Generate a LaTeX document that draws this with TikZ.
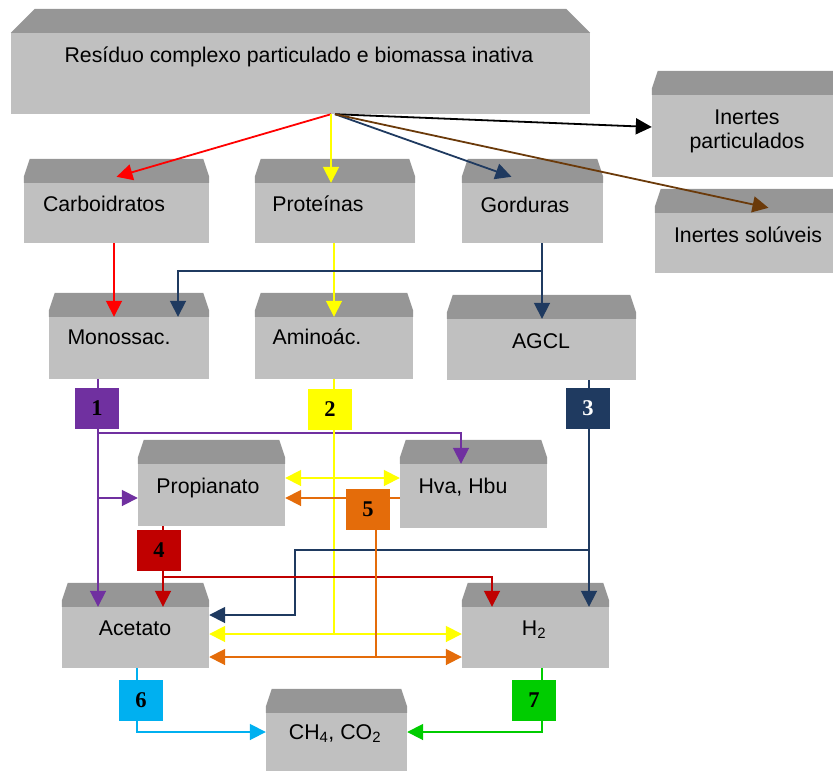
\documentclass[tikz,border=0pt]{standalone}
\usepackage{fontspec}
\setmainfont{Liberation Sans}
\newfontfamily\numfont{Liberation Serif}
\usetikzlibrary{arrows.meta}

\definecolor{cuerpo}{HTML}{C0C0C0}
\definecolor{techo}{HTML}{969696}
\definecolor{rojo}{HTML}{FF0000}
\definecolor{amarillo}{HTML}{FFFF00}
\definecolor{azul}{HTML}{1F3A60}
\definecolor{marron}{HTML}{6B3A0A}
\definecolor{morado}{HTML}{7030A0}
\definecolor{granate}{HTML}{C00000}
\definecolor{naranja}{HTML}{E46C0A}
\definecolor{celeste}{HTML}{00B0F0}
\definecolor{verde}{HTML}{00CC00}

\tikzset{
  caja/.style={fill=cuerpo, inner sep=0pt, minimum height=62pt},
  texto/.style={font=\fontsize{21.3}{24}\selectfont, inner sep=0pt, text height=16pt, text depth=5pt},
  texto2/.style={font=\fontsize{21.3}{24}\selectfont, inner sep=0pt, align=center},
  num/.style={minimum width=44pt, minimum height=41pt, inner sep=0pt, font=\numfont\bfseries\fontsize{22.5}{22.5}\selectfont},
  linea/.style={line width=1.8pt},
  flecha/.style={linea, -{Triangle[length=16pt,width=16pt]}},
  doble/.style={linea, {Triangle[length=16pt,width=16pt]}-{Triangle[length=16pt,width=16pt]}},
}

\begin{document}
\begin{tikzpicture}[x=1pt, y=-1pt]
    \useasboundingbox (0,0) rectangle (833,771);
    \clip (0,0) rectangle (833,771);
    % Cajas
    \node[caja, minimum width=579pt, minimum height=81pt] (res) at (300.5,73.5) {};
    \node[caja, minimum width=190pt, minimum height=82pt] (inpart) at (747,136) {};
    \node[caja, minimum width=187pt, minimum height=60pt] (insol) at (748.5,243) {};
    \node[caja, minimum width=185pt, minimum height=60pt] (carb) at (116.5,213) {};
    \node[caja, minimum width=160pt, minimum height=60pt] (prot) at (335,213) {};
    \node[caja, minimum width=141pt, minimum height=60pt] (gord) at (532.5,213) {};
    \node[caja, minimum width=160pt] (mono) at (129,348) {};
    \node[caja, minimum width=158pt] (amino) at (334,348) {};
    \node[caja, minimum width=189pt, minimum height=61pt] (agcl) at (541.5,349.5) {};
    \node[caja, minimum width=147pt] (prop) at (211.5,495) {};
    \node[caja, minimum width=147pt, minimum height=64pt] (hva) at (473.5,496) {};
    \node[caja, minimum width=147pt, minimum height=61pt] (acet) at (135.5,637.5) {};
    \node[caja, minimum width=147pt, minimum height=61pt] (h2) at (535.5,637.5) {};
    \node[caja, minimum width=141pt, minimum height=70pt] (ch4) at (336.5,748) {};
    % Techos
    \foreach \n/\c/\v in {res/24/0, inpart/6/6, insol/6/6, carb/6/6, prot/6/6, gord/6/6,
                          mono/6/6, amino/6/6, agcl/6/6, prop/6/6, hva/6/6, acet/6/6, h2/6/6, ch4/6/6}
      \fill[techo] (\n.north west) -- ++(0,-\v) -- ++(\c,\v-24)
        -- ([xshift=-\c, yshift=24]\n.north east) -- ([yshift=\v]\n.north east)
        -- (\n.north east) -- cycle;
    % Textos
    \node[texto] (res-t) at (299,57) {Resíduo complexo particulado e biomassa inativa};
    \node[texto2] (inpart-t) at (747,131) {Inertes\\particulados};
    \node[texto] (insol-t) at (748,237) {Inertes solúveis};
    \node[texto] (carb-t) at (104,206) {Carboidratos};
    \node[texto] (prot-t) at (318,206) {Proteínas};
    \node[texto] (gord-t) at (525,207) {Gorduras};
    \node[texto] (mono-t) at (119,339) {Monossac.};
    \node[texto] (amino-t) at (317,339) {Aminoác.};
    \node[texto] (agcl-t) at (541,343) {AGCL};
    \node[texto] (prop-t) at (208,488) {Propianato};
    \node[texto] (hva-t) at (463,488) {Hva, Hbu};
    \node[texto] (acet-t) at (135,630) {Acetato};
    \node[texto] (h2-t) at (534,630) {H\textsubscript{2}};
    \node[texto] (ch4-t) at (335,734) {CH\textsubscript{4}, CO\textsubscript{2}};
    % Hidrolise
    \coordinate (sal) at ([xshift=30.5]res.south);
    \coordinate (sal2) at ([xshift=34.5]res.south);
    \draw[flecha, rojo] (sal) -- ([yshift=6]carb.north);
    \draw[flecha, amarillo] (sal) -- (sal |- prot.north);
    \draw[flecha, azul] (sal2) -- ([xshift=-21, yshift=6]gord.north);
    \draw[flecha, black] (sal2) -- ([yshift=9]inpart.west);
    \draw[flecha, marron] (sal2) -- ([xshift=20, yshift=5]insol.north);
    % Acidogenese
    \draw[flecha, rojo] (carb.south -| 114,0) -- (mono.north -| 114,0);
    \draw[flecha, amarillo] (prot.south -| 334,0) -- (amino.north -| 334,0);
    \draw[flecha, azul] (gord.south -| 542,0) -- (agcl.north -| 542,0);
    \draw[flecha, azul] (542,271) -| (mono.north -| 178,0);
    % 1
    \draw[flecha, morado] (mono.south -| 98,0) -- (acet.north -| 98,0);
    \draw[flecha, morado] (98,433) -| (hva.north -| 461,0);
    \draw[flecha, morado] (98,498) -- (prop.west |- 0,498);
    % 2
    \draw[linea, amarillo] (amino.south -| 334,0) -- (334,634);
    \draw[doble, amarillo] (acet.east |- 0,634) -- (h2.west |- 0,634);
    \draw[doble, amarillo] (prop.east |- 0,478) -- (hva.west |- 0,478);
    % 3
    \draw[flecha, azul] (agcl.south -| 589,0) -- (h2.north -| 589,0);
    \draw[flecha, azul] (589,550) -| (295,615) -- (acet.east |- 0,615);
    % 4
    \draw[flecha, granate] (prop.south -| 163,0) -- (acet.north -| 163,0);
    \draw[flecha, granate] (163,577) -| (h2.north -| 492,0);
    % 5
    \draw[flecha, naranja] (hva.west |- 0,498) -- (prop.east |- 0,498);
    \draw[linea, naranja] (376,498) -- (376,657);
    \draw[doble, naranja] (acet.east |- 0,657) -- (h2.west |- 0,657);
    % 6 e 7
    \draw[flecha, celeste] (acet.south -| 137,0) |- (ch4.west |- 0,732);
    \draw[flecha, verde] (h2.south -| 542,0) |- (ch4.east |- 0,732);
    % Numeros
    \node[num, fill=morado] (n1) at (97,408.5) {1};
    \node[num, fill=amarillo] (n2) at (330,409) {2};
    \node[num, fill=azul, text=white] (n3) at (588,408.5) {3};
    \node[num, fill=granate] (n4) at (159,550.5) {4};
    \node[num, fill=naranja] (n5) at (368,509.5) {5};
    \node[num, fill=celeste] (n6) at (141,700.5) {6};
    \node[num, fill=verde] (n7) at (534,700.5) {7};
\end{tikzpicture}
\end{document}
